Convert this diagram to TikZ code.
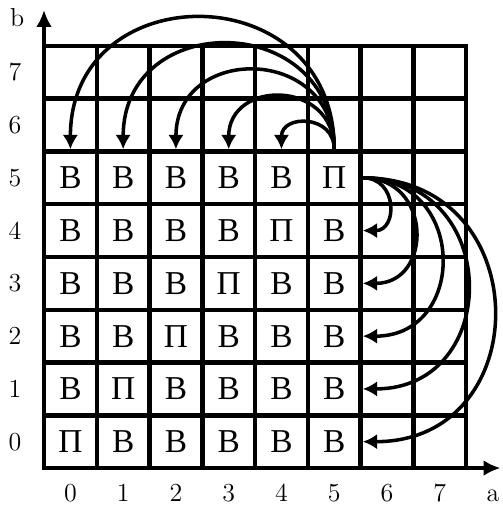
\documentclass[tikz,border=0pt]{standalone}
\usepackage{fontspec}
\newfontfamily\cyrfont{Liberation Serif}
\usepackage{tikz}
\usetikzlibrary{arrows,arrows.meta}

\tikzset{
	cell/.style = {minimum size = 1cm, inner sep = 0pt, font = \cyrfont\fontsize{18}{21}\selectfont},
	num/.style = {inner sep = 0pt, font = \fontsize{14}{17}\selectfont},
	jump/.style = {line width = 1.9pt, -{Latex[length = 2.7mm, width = 2.9mm]}},
	axis/.style = {line width = 2.4pt, -{Latex[length = 3.2mm, width = 3mm]}}
}

\begin{document}
\begin{tikzpicture}[line width = 2.4pt]
	\useasboundingbox (-0.834,-0.70) rectangle (8.68,8.87);
	\draw [line cap = rect] (0,0) grid (8,8);
	\coordinate (o) at (0,0);
	\coordinate (xtip) at (8.65,0);
	\coordinate (ytip) at (0,8.68);
	\draw [axis] (o) -- (xtip);
	\draw [axis] (o) -- (ytip);
	% row 5
	\draw (0.5,5.5) node [cell] (c05) {В};
	\draw (1.5,5.5) node [cell] (c15) {В};
	\draw (2.5,5.5) node [cell] (c25) {В};
	\draw (3.5,5.5) node [cell] (c35) {В};
	\draw (4.5,5.5) node [cell] (c45) {В};
	\draw (5.5,5.5) node [cell] (c55) {П};
	% row 4
	\draw (0.5,4.5) node [cell] (c04) {В};
	\draw (1.5,4.5) node [cell] (c14) {В};
	\draw (2.5,4.5) node [cell] (c24) {В};
	\draw (3.5,4.5) node [cell] (c34) {В};
	\draw (4.5,4.5) node [cell] (c44) {П};
	\draw (5.5,4.5) node [cell] (c54) {В};
	% row 3
	\draw (0.5,3.5) node [cell] (c03) {В};
	\draw (1.5,3.5) node [cell] (c13) {В};
	\draw (2.5,3.5) node [cell] (c23) {В};
	\draw (3.5,3.5) node [cell] (c33) {П};
	\draw (4.5,3.5) node [cell] (c43) {В};
	\draw (5.5,3.5) node [cell] (c53) {В};
	% row 2
	\draw (0.5,2.5) node [cell] (c02) {В};
	\draw (1.5,2.5) node [cell] (c12) {В};
	\draw (2.5,2.5) node [cell] (c22) {П};
	\draw (3.5,2.5) node [cell] (c32) {В};
	\draw (4.5,2.5) node [cell] (c42) {В};
	\draw (5.5,2.5) node [cell] (c52) {В};
	% row 1
	\draw (0.5,1.5) node [cell] (c01) {В};
	\draw (1.5,1.5) node [cell] (c11) {П};
	\draw (2.5,1.5) node [cell] (c21) {В};
	\draw (3.5,1.5) node [cell] (c31) {В};
	\draw (4.5,1.5) node [cell] (c41) {В};
	\draw (5.5,1.5) node [cell] (c51) {В};
	% row 0
	\draw (0.5,0.5) node [cell] (c00) {П};
	\draw (1.5,0.5) node [cell] (c10) {В};
	\draw (2.5,0.5) node [cell] (c20) {В};
	\draw (3.5,0.5) node [cell] (c30) {В};
	\draw (4.5,0.5) node [cell] (c40) {В};
	\draw (5.5,0.5) node [cell] (c50) {В};
	% moves up-left
	\draw [jump] (c55.north) to [out = 90, in = 90, looseness = 1.7] (c45.north);
	\draw [jump] (c55.north) to [out = 90, in = 90, looseness = 1.7] (c35.north);
	\draw [jump] (c55.north) to [out = 90, in = 90, looseness = 1.7] (c25.north);
	\draw [jump] (c55.north) to [out = 90, in = 90, looseness = 1.7] (c15.north);
	\draw [jump] (c55.north) to [out = 90, in = 90, looseness = 1.7] (c05.north);
	% moves down
	\draw [jump] (c55.east) to [out = 0, in = 0, looseness = 1.7] (c54.east);
	\draw [jump] (c55.east) to [out = 0, in = 0, looseness = 1.7] (c53.east);
	\draw [jump] (c55.east) to [out = 0, in = 0, looseness = 1.7] (c52.east);
	\draw [jump] (c55.east) to [out = 0, in = 0, looseness = 1.7] (c51.east);
	\draw [jump] (c55.east) to [out = 0, in = 0, looseness = 1.7] (c50.east);
	% axis labels
	\draw (-0.55,0.5) node [num] (y0) {0};
	\draw (-0.55,1.5) node [num] (y1) {1};
	\draw (-0.55,2.5) node [num] (y2) {2};
	\draw (-0.55,3.5) node [num] (y3) {3};
	\draw (-0.55,4.5) node [num] (y4) {4};
	\draw (-0.55,5.5) node [num] (y5) {5};
	\draw (-0.55,6.5) node [num] (y6) {6};
	\draw (-0.55,7.5) node [num] (y7) {7};
	\draw (0.5,-0.63) node [num, anchor = base] (x0) {0};
	\draw (1.5,-0.63) node [num, anchor = base] (x1) {1};
	\draw (2.5,-0.63) node [num, anchor = base] (x2) {2};
	\draw (3.5,-0.63) node [num, anchor = base] (x3) {3};
	\draw (4.5,-0.63) node [num, anchor = base] (x4) {4};
	\draw (5.5,-0.63) node [num, anchor = base] (x5) {5};
	\draw (6.5,-0.63) node [num, anchor = base] (x6) {6};
	\draw (7.5,-0.63) node [num, anchor = base] (x7) {7};
	\draw (8.51,-0.63) node [num, anchor = base] (alab) {a};
	\draw (-0.51,8.36) node [num, anchor = base] (blab) {b};
\end{tikzpicture}
\end{document}
